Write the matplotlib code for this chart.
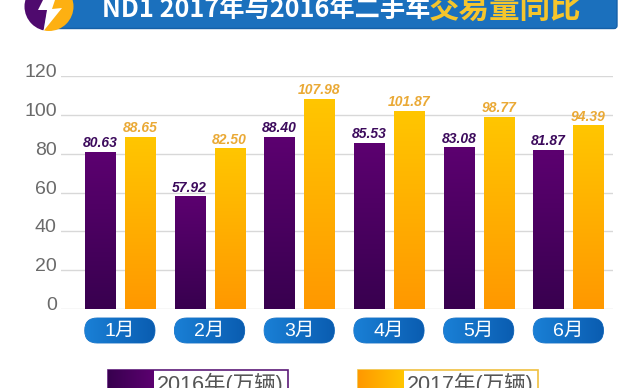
import numpy as np
import matplotlib
matplotlib.use('Agg')
import matplotlib.pyplot as plt
from matplotlib.colors import LinearSegmentedColormap
from matplotlib.patches import Circle, FancyBboxPatch, Polygon, Rectangle
from matplotlib.transforms import ScaledTranslation

plt.rcParams['font.family'] = ['Liberation Sans', 'Noto Sans CJK SC', 'DejaVu Sans']

months = ['1月', '2月', '3月', '4月', '5月', '6月']
sales_2016 = [80.63, 57.92, 88.40, 85.53, 83.08, 81.87]
sales_2017 = [88.65, 82.50, 107.98, 101.87, 98.77, 94.39]
y_ticks = [0, 20, 40, 60, 80, 100, 120]

W, H = 640, 388
PURPLE = LinearSegmentedColormap.from_list('p', ['#38004f', '#5c0070'])
ORANGE = LinearSegmentedColormap.from_list('o', ['#ff9800', '#ffc600'])
PILL = LinearSegmentedColormap.from_list('b', ['#1a80d6', '#0a5cb0'])
GRAD = np.linspace(0, 1, 256)

fig = plt.figure(figsize=(W / 100, H / 100), dpi=100)

# whole figure layer in pixel coords, for the banner, pills and legend
bg = fig.add_axes([0, 0, 1, 1])
bg.set_xlim(0, W)
bg.set_ylim(H, 0)
bg.axis('off')


def grad_box(ax, patch, cmap, extent, horizontal=False):
    ax.add_patch(patch)
    data = GRAD[None, :] if horizontal else GRAD[:, None]
    im = ax.imshow(data, cmap=cmap, extent=extent, origin='lower', aspect='auto', zorder=patch.get_zorder())
    im.set_clip_path(patch)
    patch.set_facecolor('none')


# banner
bg.add_patch(FancyBboxPatch((40, -20), 577, 48.5, boxstyle='round,pad=0,rounding_size=3',
                            fc='#1b70bd', ec='#1560a8', lw=1))
purple_half = Polygon([(20, -5), (50, -5), (43.5, 31), (20, 31)], fc='#4f0a6e', ec='none', zorder=3)
orange_half = Polygon([(50, -5), (80, -5), (80, 31), (43.5, 31)], fc='#fdb012', ec='none', zorder=3)
for half in [purple_half, orange_half]:
    bg.add_patch(half)
    half.set_clip_path(Circle((49, 6.5), 24.5, transform=bg.transData))
bg.add_patch(Polygon([(43, 0), (38, 10), (47, 10), (43.5, 31), (62, 8), (52, 9), (55, 0)],
                     fc='white', ec='none', zorder=4))

bg.text(102, 9, 'ND1 2017年与2016年二手车', color='white', fontsize=18.2, fontweight='bold',
        family=['Noto Sans CJK SC'], va='center', ha='left')
bg.text(429, 9, '交易量同比', color='#f5c52c', fontsize=22, fontweight='bold',
        family=['Noto Sans CJK SC'], va='center', ha='left')

# month pills
for i, month in enumerate(months):
    x0 = 84.7 + 89.7 * i
    pill = FancyBboxPatch((x0, 318), 70.3, 25, boxstyle='round,pad=0,rounding_size=12.5',
                          ec='#0a66bd', lw=0.6)
    grad_box(bg, pill, PILL, (x0, x0 + 70.3, 343, 318), horizontal=True)
    bg.text(x0 + 35, 331, month, color='white', fontsize=14, ha='center', va='center')

# legend, cut off by the bottom edge
legend = [('2016年(万辆)', 108, 288, PURPLE, '#5c1a78'),
          ('2017年(万辆)', 357.5, 538, ORANGE, '#f0c040')]
for label, x0, x1, cmap, edge in legend:
    bg.add_patch(Rectangle((x0, 370), x1 - x0, 30, fc='white', ec=edge, lw=1.2))
    swatch = Rectangle((x0, 370), 46, 30, ec='none')
    grad_box(bg, swatch, cmap, (x0, x0 + 46, 400, 370), horizontal=True)
    bg.text(x0 + 49, 390.5, label, color='#555555', fontsize=15.5, ha='left', va='baseline')

bg.set_xlim(0, W)
bg.set_ylim(H, 0)

# bar chart
left, right, top, bottom = 61, 613, 76.2, 309
ax = fig.add_axes([left / W, 1 - bottom / H, (right - left) / W, (bottom - top) / H])
ax.patch.set_alpha(0)
xlim = ((left - 120) / 89.7, (right - 120) / 89.7)
x = np.arange(len(months))
off = 20 / 89.7
bw = 30.3 / 89.7

bars_a = ax.bar(x - off, sales_2016, bw, color='none', zorder=3)
bars_b = ax.bar(x + off, sales_2017, bw, color='none', zorder=3)
for bars, cmap in [(bars_a, PURPLE), (bars_b, ORANGE)]:
    for b in bars:
        ax.imshow(GRAD[:, None], cmap=cmap, origin='lower', aspect='auto', zorder=3,
                  extent=(b.get_x(), b.get_x() + b.get_width(), 0, b.get_height()))
for xi, v in zip(x - off, sales_2016):
    ax.annotate(f'{v:.2f}', (xi, v), xytext=(0, 1.5), textcoords='offset points', ha='center', va='bottom',
                color='#3c0a5c', fontsize=10, fontweight='bold', style='italic')
for xi, v in zip(x + off, sales_2017):
    ax.annotate(f'{v:.2f}', (xi, v), xytext=(0, 1.5), textcoords='offset points', ha='center', va='bottom',
                color='#eaa935', fontsize=10, fontweight='bold', style='italic')

ax.set_xlim(*xlim)
ax.set_ylim(0, 120)
ax.set_xticks([])
ax.set_yticks(y_ticks)
ax.tick_params(axis='y', length=0, labelsize=14, labelcolor='#6a6a6a', pad=3)
# the tick labels sit a little above their grid lines
shift = ScaledTranslation(0, 5.5 / 100, fig.dpi_scale_trans)
for lab in ax.get_yticklabels():
    lab.set_transform(lab.get_transform() + shift)
ax.grid(axis='y', color='#d8d8d8', lw=1, zorder=0)
ax.set_axisbelow(True)
for s in ax.spines.values():
    s.set_visible(False)

fig.savefig('out.png', dpi=100)
